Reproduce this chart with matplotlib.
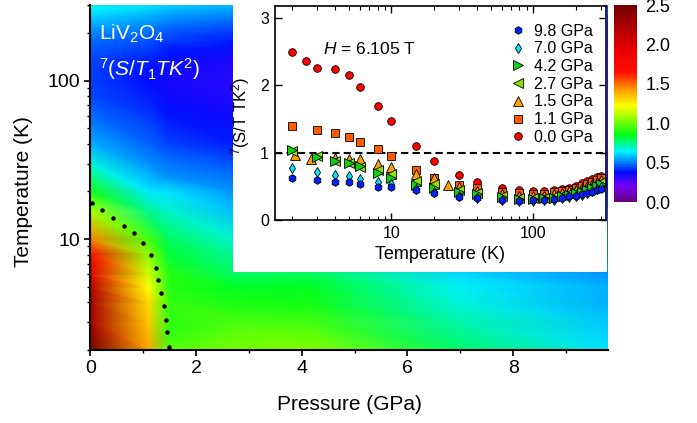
import matplotlib
matplotlib.use('Agg')
import matplotlib.pyplot as plt
import matplotlib.tri as mtri
import numpy as np
from matplotlib.colors import LinearSegmentedColormap
from matplotlib.patches import Rectangle
from matplotlib.ticker import LogLocator, NullFormatter

plt.rcParams['font.family'] = 'Liberation Sans'
plt.rcParams['mathtext.fontset'] = 'custom'
plt.rcParams['mathtext.rm'] = 'Liberation Sans'
plt.rcParams['mathtext.it'] = 'Liberation Sans:italic'

# 7(S/T1TK^2) vs temperature for each pressure (inset), also the source of the map
temps = [2, 3, 4, 5, 6, 8, 10, 15, 20, 30, 40, 60, 80, 100, 120, 140, 160, 180,
         200, 220, 240, 260, 280, 300]
temps_0p0 = [2, 2.5, 3, 4, 5, 6, 8, 10, 15, 20, 30, 40, 60, 80, 100, 120, 140,
             160, 180, 200, 220, 240, 260, 280, 300]
temps_1p5 = [2.1, 2.7, 4, 5, 6, 8, 10, 15, 20, 25, 30, 40, 60, 80, 100, 120, 140,
             160, 180, 200, 220, 240, 260, 280, 300]

k_0p0 = [2.49, 2.36, 2.26, 2.25, 2.16, 1.98, 1.70, 1.47, 1.10, 0.88, 0.67, 0.56,
         0.48, 0.44, 0.43, 0.43, 0.44, 0.46, 0.48, 0.51, 0.55, 0.58, 0.61, 0.64, 0.66]
k_1p1 = [1.40, 1.33, 1.29, 1.23, 1.16, 1.05, 0.95, 0.75, 0.63, 0.52, 0.47, 0.42,
         0.40, 0.38, 0.39, 0.41, 0.43, 0.45, 0.48, 0.51, 0.54, 0.57, 0.60, 0.63]
k_1p5 = [0.96, 0.91, 0.92, 0.90, 0.90, 0.83, 0.79, 0.69, 0.62, 0.52, 0.49, 0.43,
         0.39, 0.36, 0.35, 0.36, 0.38, 0.40, 0.43, 0.45, 0.48, 0.51, 0.54, 0.57, 0.60]
k_2p7 = [1.02, 0.95, 0.88, 0.84, 0.79, 0.74, 0.69, 0.58, 0.53, 0.45, 0.40, 0.36,
         0.33, 0.32, 0.33, 0.35, 0.37, 0.40, 0.42, 0.45, 0.48, 0.51, 0.54, 0.57]
k_4p2 = [1.04, 0.94, 0.87, 0.84, 0.80, 0.70, 0.63, 0.52, 0.47, 0.42, 0.38, 0.34,
         0.31, 0.31, 0.32, 0.33, 0.35, 0.37, 0.40, 0.42, 0.45, 0.48, 0.51, 0.54]
k_7p0 = [0.78, 0.72, 0.67, 0.65, 0.61, 0.57, 0.54, 0.46, 0.41, 0.36, 0.33, 0.30,
         0.28, 0.28, 0.29, 0.30, 0.32, 0.34, 0.36, 0.37, 0.40, 0.43, 0.46, 0.49]
k_9p8 = [0.62, 0.59, 0.56, 0.56, 0.53, 0.49, 0.49, 0.44, 0.40, 0.34, 0.32, 0.30,
         0.28, 0.29, 0.30, 0.31, 0.33, 0.35, 0.36, 0.38, 0.40, 0.42, 0.44, 0.46]

# dotted line (value = 1) in the P-T map
dot_p = [0.03, 0.22, 0.43, 0.63, 0.82, 1.00, 1.15, 1.24, 1.29, 1.34, 1.39, 1.43, 1.46, 1.49]
dot_t = [17.0, 15.3, 13.7, 12.1, 10.9, 9.5, 7.9, 6.6, 5.5, 4.6, 3.8, 3.1, 2.6, 2.1]

series = [
    (0.0, temps_0p0, k_0p0, 'o', '#ff0000'),
    (1.1, temps, k_1p1, 's', '#ff5a00'),
    (1.5, temps_1p5, k_1p5, '^', '#ffa000'),
    (2.7, temps, k_2p7, '<', '#90e000'),
    (4.2, temps, k_4p2, '>', '#10d010'),
    (7.0, temps, k_7p0, 'd', '#00e8ff'),
    (9.8, temps, k_9p8, 'h', '#0020ff'),
]

cmap = LinearSegmentedColormap.from_list('rb', [
    (0.00, (0.40, 0.00, 0.50)),
    (0.08, (0.45, 0.00, 0.95)),
    (0.150, (0.00, 0.05, 1.00)),
    (0.195, (0.00, 0.45, 1.00)),
    (0.255, (0.00, 0.95, 1.00)),
    (0.34, (0.00, 1.00, 0.10)),
    (0.42, (0.55, 1.00, 0.00)),
    (0.49, (1.00, 1.00, 0.00)),
    (0.58, (1.00, 0.55, 0.00)),
    (0.66, (1.00, 0.05, 0.00)),
    (0.78, (0.90, 0.00, 0.00)),
    (1.00, (0.45, 0.00, 0.00)),
])

W, H = 697, 423
fig = plt.figure(figsize=(W / 100, H / 100), dpi=100)
rect = [90.3 / W, 1 - 350 / H, (608.3 - 90.3) / W, (350 - 5) / H]

# colour map drawn on a plain axes in (P, log10 T), under the log axes;
# triangles are laid as strips between neighbouring pressures
P_all = np.concatenate([np.full(len(t), p) for p, t, k, m, c in series])
T_all = np.concatenate([np.asarray(t, float) for p, t, k, m, c in series])
K_all = np.concatenate([np.asarray(k, float) for p, t, k, m, c in series])
logT = np.log10(T_all)
starts = np.cumsum([0] + [len(s[1]) for s in series])
triangles = []
for j in range(len(series) - 1):
    a = np.arange(starts[j], starts[j + 1])
    b = np.arange(starts[j + 1], starts[j + 2])
    i = k = 0
    while i < len(a) - 1 or k < len(b) - 1:
        if k >= len(b) - 1 or (i < len(a) - 1 and logT[a[i + 1]] <= logT[b[k + 1]]):
            triangles.append([a[i], a[i + 1], b[k]])
            i += 1
        else:
            triangles.append([a[i], b[k + 1], b[k]])
            k += 1
tri = mtri.Triangulation(P_all, logT, triangles=np.array(triangles))

axm = fig.add_axes(rect)
tpc = axm.tripcolor(tri, K_all, shading='gouraud', cmap=cmap, vmin=0, vmax=2.5)
axm.set_xlim(0, 9.8)
axm.set_ylim(np.log10(2), np.log10(300))
axm.set_facecolor(cmap(1.0 / 2.5))
axm.set_xticks([])
axm.set_yticks([])
for s in axm.spines.values():
    s.set_visible(False)

# main axes
ax = fig.add_axes(rect)
ax.set_facecolor('none')
ax.plot(dot_p, dot_t, 'o', ms=3.2, color='k', mec='none')
ax.set_yscale('log')
ax.set_xlim(0, 9.8)
ax.set_ylim(2, 300)
for s in ['top', 'right']:
    ax.spines[s].set_visible(False)
for s in ['left', 'bottom']:
    ax.spines[s].set_linewidth(1.5)
ax.set_xticks([0, 2, 4, 6, 8])
ax.set_xticks([1, 3, 5, 7, 9], minor=True)
ax.set_yticks([10, 100], ['10', '100'])
ax.yaxis.set_minor_locator(LogLocator(base=10, subs=np.arange(2, 10)))
ax.yaxis.set_minor_formatter(NullFormatter())
ax.tick_params(which='major', direction='out', length=4, width=1.2, labelsize=14, pad=3)
ax.tick_params(which='minor', direction='out', length=2.5, width=1.0)
ax.set_xlabel('Pressure (GPa)', fontsize=15)
ax.xaxis.set_label_coords(0.5, -0.13)
ax.set_ylabel('Temperature (K)', fontsize=15)
ax.yaxis.set_label_coords(-0.11, 0.458)
fig.text(99 / W, 1 - 40 / H, r'LiV$_2$O$_4$', color='w', fontsize=15, va='baseline')
fig.text(99 / W, 1 - 76 / H, r'$^7(S/T_1TK^2)$', color='w', fontsize=15, va='baseline')

# white box behind the inset
fig.add_artist(Rectangle((233 / W, 1 - 272 / H), (607 - 233) / W, (272 - 5) / H,
                         transform=fig.transFigure, facecolor='white',
                         edgecolor='none', zorder=1))

# inset
axi = fig.add_axes([274.5 / W, 1 - 220 / H, (606 - 274.5) / W, (220 - 6) / H])
axi.set_zorder(2)
axi.axhline(1, color='k', ls=(0, (3.5, 2)), lw=1.5, zorder=1)
handles = []
for p, t, k, m, c in series:
    ms = 6.5 if m in ('^', '<', '>') else 5.5
    h, = axi.plot(t, k, m, ls='none', ms=ms, mfc=c, mec='k', mew=0.6,
                  label='%.1f GPa' % p, zorder=2)
    handles.append(h)
axi.set_xscale('log')
axi.set_xlim(1.5, 326)
axi.set_ylim(0, 3.18)
axi.set_xticks([10, 100], ['10', '100'])
axi.xaxis.set_minor_locator(LogLocator(base=10, subs=np.arange(2, 10)))
axi.xaxis.set_minor_formatter(NullFormatter())
axi.set_yticks([0, 1, 2, 3])
axi.tick_params(which='both', direction='in', top=True, right=True, labelsize=11.5, pad=4)
axi.tick_params(which='major', length=5, width=1.0)
axi.tick_params(which='minor', length=3, width=0.8)
for s in axi.spines.values():
    s.set_linewidth(1.2)
axi.set_xlabel('Temperature (K)', fontsize=13)
axi.xaxis.set_label_coords(0.5, -0.12)
axi.set_ylabel(r'$^7$(S/T TK$^2$)', fontsize=12)
axi.yaxis.set_label_coords(-0.068, 0.486)
axi.text(0.146, 0.80, r'$H$ = 6.105 T', transform=axi.transAxes, fontsize=12.5, va='center')
axi.legend(handles[::-1], [h.get_label() for h in handles[::-1]], loc='upper right',
           bbox_to_anchor=(0.961, 0.918), frameon=False, fontsize=11.5, borderpad=0,
           borderaxespad=0, handlelength=1.0, handletextpad=0.5, labelspacing=0.17)

# colorbar
cax = fig.add_axes([614 / W, 1 - 202 / H, 23 / W, 197 / H])
cb = fig.colorbar(tpc, cax=cax, ticks=[0, 0.5, 1, 1.5, 2, 2.5], format='%.1f')
cb.outline.set_visible(False)
cax.tick_params(length=0, labelsize=13, pad=6)

fig.savefig('out.png', dpi=100)
